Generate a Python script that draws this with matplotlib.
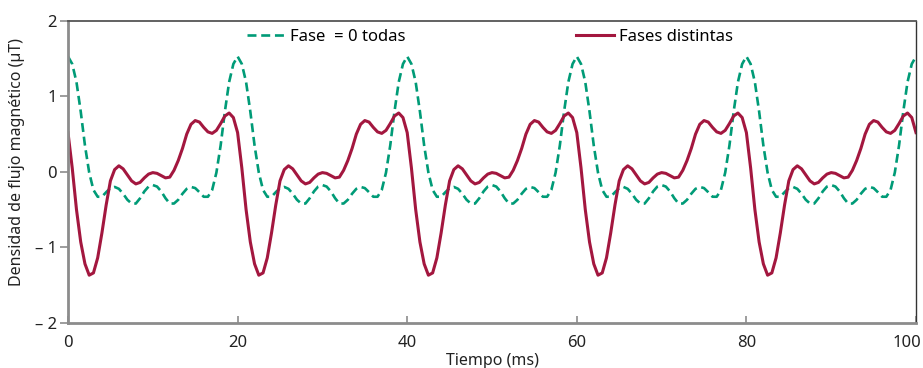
import numpy as np
import matplotlib
matplotlib.use("Agg")
import matplotlib.pyplot as plt
import matplotlib.transforms as mtransforms

plt.rcParams['font.family'] = ['Noto Sans', 'DejaVu Sans']

# --- Data (one 20 ms period, step 0.5 ms) ---
period_ms = 20.0
n_periods = 5
t_period = np.arange(0, 20.0, 0.5)

# "Fase = 0 todas" (green dashed)
fase_cero = [1.53, 1.43, 1.19, 0.80, 0.35, -0.01, -0.24, -0.33, -0.33, -0.27,
             -0.215, -0.20, -0.225, -0.29, -0.37, -0.42, -0.42, -0.35, -0.26, -0.195,
             -0.175, -0.195, -0.26, -0.35, -0.42, -0.42, -0.37, -0.29, -0.225, -0.20,
             -0.215, -0.27, -0.33, -0.33, -0.24, -0.01, 0.35, 0.80, 1.19, 1.43]

# "Fases distintas" (red solid)
fases_distintas = [0.52, 0.05, -0.50, -0.93, -1.22, -1.37, -1.34, -1.14, -0.81, -0.44,
                   -0.12, 0.03, 0.08, 0.04, -0.04, -0.12, -0.16, -0.14, -0.08, -0.03,
                   -0.01, -0.02, -0.05, -0.08, -0.07, 0.02, 0.15, 0.31, 0.50, 0.63,
                   0.68, 0.66, 0.59, 0.53, 0.51, 0.55, 0.64, 0.74, 0.78, 0.72]

# repeat the measured period over the whole 0-100 ms window
t = np.concatenate([t_period + k * period_ms for k in range(n_periods)] + [[100.0]])
green = np.concatenate([np.tile(fase_cero, n_periods), [fase_cero[0]]])
red = np.concatenate([np.tile(fases_distintas, n_periods), [fases_distintas[0]]])

x_ticks = [0, 20, 40, 60, 80, 100]
y_ticks = [-2, -1, 0, 1, 2]
y_tick_labels = ['\u2013 2', '\u2013 1', '0', '1', '2']

# --- Plotting ---
fig = plt.figure(figsize=(9.23, 3.68), dpi=100)
ax = fig.add_axes([68 / 923, 1 - 322.7 / 368, 848 / 923, 301.7 / 368])

green_c = '#009b77'
red_c = '#a3173f'

ax.plot(t, green, color=green_c, lw=1.9, dashes=(3.4, 1.8), label='Fase  = 0 todas',
        dash_joinstyle='round')
ax.plot(t, red, color=red_c, lw=2.2, label='Fases distintas', solid_joinstyle='round')

ax.set_xlim(0, 100)
ax.set_ylim(-2, 2)
ax.set_xticks(x_ticks)
ax.set_yticks(y_ticks)
ax.set_yticklabels(y_tick_labels)

ax.tick_params(axis='x', direction='in', length=5, width=1.2, color='#8c8c8c',
               labelsize=12, pad=9, labelcolor='#222222')
ax.tick_params(axis='y', direction='out', length=6, width=1.2, color='#8c8c8c',
               labelsize=12, pad=2, labelcolor='#222222')

# last x label sits a bit left of its tick, inside the figure
last_lbl = ax.get_xticklabels()[-1]
last_lbl.set_transform(last_lbl.get_transform() +
                       mtransforms.ScaledTranslation(-0.09, 0, fig.dpi_scale_trans))

ax.set_xlabel('Tiempo (ms)', fontsize=11.5, color='#222222', labelpad=1)
ax.set_ylabel('Densidad de flujo magnético (µT)', fontsize=11.5, color='#222222')
ax.yaxis.set_label_coords(-0.051, 0.533)

# Spines
ax.spines['left'].set_color('#8c8c8c')
ax.spines['left'].set_linewidth(2.0)
ax.spines['bottom'].set_color('#8c8c8c')
ax.spines['bottom'].set_linewidth(2.0)
ax.spines['top'].set_color('#555555')
ax.spines['top'].set_linewidth(1.3)
ax.spines['right'].set_color('#333333')
ax.spines['right'].set_linewidth(1.0)

ax.legend(loc='center left', bbox_to_anchor=((247 - 68) / 848, (322.7 - 37) / 301.7),
          ncol=2, frameon=False, fontsize=12, handlelength=2.3, handletextpad=0.3,
          columnspacing=10.2, borderpad=0, borderaxespad=0)

plt.savefig('out.png', dpi=100, facecolor='white')
